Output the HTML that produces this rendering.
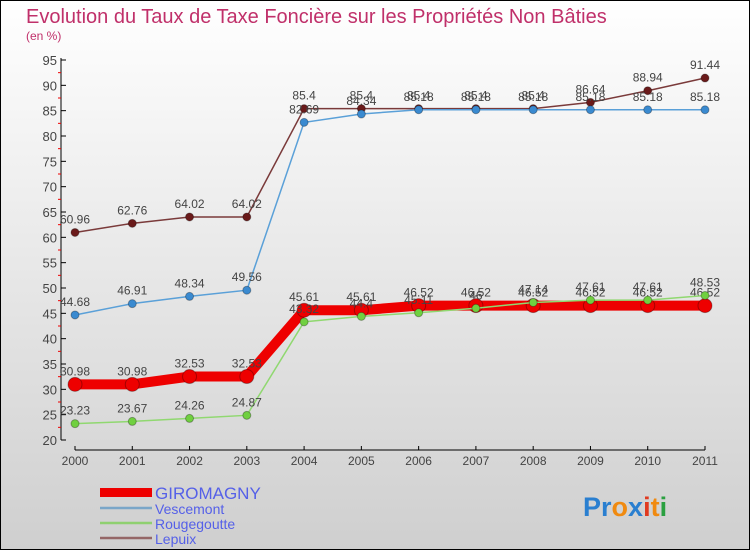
<!DOCTYPE html>
<html><head><meta charset="utf-8"><style>
body{margin:0;width:750px;height:550px;overflow:hidden;font-family:"Liberation Sans",sans-serif}
svg text{font-family:"Liberation Sans",sans-serif}
</style></head><body>
<svg id="c" width="750" height="550" xmlns="http://www.w3.org/2000/svg">
<defs><linearGradient id="bg" x1="0" y1="0" x2="0" y2="1"><stop offset="0" stop-color="#ffffff"/><stop offset="1" stop-color="#cfcfcf"/></linearGradient></defs>
<rect x="0.5" y="0.5" width="749" height="549" fill="url(#bg)" stroke="#000"/>
<text x="26" y="23" font-size="20" fill="#c0306a">Evolution du Taux de Taxe Foncière sur les Propriétés Non Bâties</text>
<text x="26" y="40" font-size="12" fill="#c0306a">(en %)</text>
<g id="axes"></g><g id="series"></g>
<g>
<rect x="100" y="488" width="52" height="9" fill="#e00"/>
<text x="155" y="499" font-size="17" fill="#5560e8">GIROMAGNY</text>
<line x1="100" y1="508" x2="152" y2="508" stroke="#7aa6c8" stroke-width="2.5"/>
<text x="155" y="514" font-size="14" fill="#5560e8">Vescemont</text>
<line x1="100" y1="523" x2="152" y2="523" stroke="#8fd070" stroke-width="2.5"/>
<text x="155" y="529" font-size="14" fill="#5560e8">Rougegoutte</text>
<line x1="100" y1="538" x2="152" y2="538" stroke="#946666" stroke-width="2.5"/>
<text x="155" y="544" font-size="14" fill="#5560e8">Lepuix</text>
</g>
<text x="583" y="516" font-size="27" font-weight="bold"><tspan fill="#2a7fd0">Pr</tspan><tspan fill="#f08a10">o</tspan><tspan fill="#2a7fd0">x</tspan><tspan fill="#e03a20">i</tspan><tspan fill="#f08a10">t</tspan><tspan fill="#2aa040">i</tspan></text>
</svg>
<script>
const years=["2000","2001","2002","2003","2004","2005","2006","2007","2008","2009","2010","2011"];
const yTicks=[20,25,30,35,40,45,50,55,60,65,70,75,80,85,90,95];
const giromagny=[30.98,30.98,32.53,32.53,45.61,45.61,46.52,46.52,46.52,46.52,46.52,46.52];
const vescemont=[44.68,46.91,48.34,49.56,82.69,84.34,85.18,85.18,85.18,85.18,85.18,85.18];
const rougegoutte=[23.23,23.67,24.26,24.87,43.32,44.4,45.11,46,47.14,47.61,47.61,48.53];
const lepuix=[60.96,62.76,64.02,64.02,85.4,85.4,85.4,85.4,85.4,86.64,88.94,91.44];
const NS="http://www.w3.org/2000/svg";
const X=i=>75+i*(630/11), Y=v=>440-(v-20)*(380/75);
function mk(t,a,p){const e=document.createElementNS(NS,t);for(const k in a)e.setAttribute(k,a[k]);p.appendChild(e);return e;}
const ax=document.getElementById('axes');
let l=mk('line',{x1:61,y1:58,x2:61,y2:440,stroke:'#000'},ax);


yTicks.forEach((v,i)=>{
 mk('line',{x1:61,y1:Y(v),x2:66,y2:Y(v),stroke:'#000'},ax);
 if(i<yTicks.length-1){const m=mk('line',{x1:58,y1:Y(v+2.5),x2:61,y2:Y(v+2.5),stroke:'#e00'},ax);}
 const t=mk('text',{x:57,y:Y(v)+5,'font-size':13,fill:'#444','text-anchor':'end'},ax);t.textContent=v;
 
 
});
l=mk('line',{x1:75,y1:450,x2:705,y2:450,stroke:'#000'},ax);


years.forEach((y,i)=>{
 mk('line',{x1:X(i),y1:446,x2:X(i),y2:450,stroke:'#000'},ax);
 const t=mk('text',{x:X(i),y:465,'font-size':12,fill:'#444','text-anchor':'middle'},ax);t.textContent=y;
 
 
});
const sg=document.getElementById('series');
function draw(name,vals,col,w,r,mc){
 const g=mk('g',{},sg);
 
 
 mk('polyline',{points:vals.map((v,i)=>X(i)+','+Y(v)).join(' '),fill:'none',stroke:col,'stroke-width':w},g);
 vals.forEach((v,i)=>{
  const c=mk('circle',{cx:X(i),cy:Y(v),r:r,fill:mc,stroke:'rgba(0,0,0,0.3)'},g);
  
  
  const t=mk('text',{x:X(i),y:Y(v)-9,'font-size':12,fill:'#444','text-anchor':'middle'},g);t.textContent=v;
  
  
 });
}
draw('lepuix',lepuix,'#7a3a3a',1.5,4,'#6a1a1a');
draw('vescemont',vescemont,'#5aa0d8',1.5,4,'#3a8ad0');
draw('giromagny',giromagny,'#ee0000',10,7,'#ee0000');
draw('rougegoutte',rougegoutte,'#90d870',1.5,4,'#70d040');
</script>
</body></html>
